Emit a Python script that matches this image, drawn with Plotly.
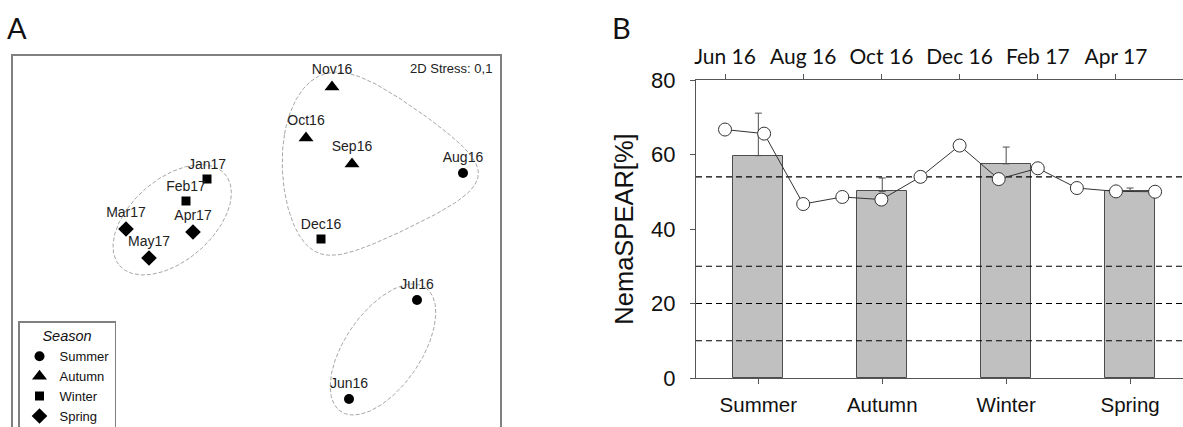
import numpy as np
import plotly.graph_objects as go

# ---------------- Panel A : NMDS ordination ----------------
sample_labels = ["Jun16", "Jul16", "Aug16", "Sep16", "Oct16", "Nov16",
                 "Dec16", "Jan17", "Feb17", "Mar17", "Apr17", "May17"]
nmds1 = [3.36, 4.04, 4.50, 3.39, 2.93, 3.19, 3.08, 1.94, 1.73, 1.13, 1.80, 1.36]
nmds2 = [0.28, 1.27, 2.54, 2.63, 2.89, 3.40, 1.88, 2.48, 2.26, 1.98, 1.95, 1.69]
sample_season = ["Summer", "Summer", "Summer", "Autumn", "Autumn", "Autumn",
                 "Winter", "Winter", "Winter", "Spring", "Spring", "Spring"]
seasons = ["Summer", "Autumn", "Winter", "Spring"]
season_symbols = ["circle", "triangle-up", "square", "diamond"]
season_sizes = [10, 13, 9, 12]
clusters = [["Jun16", "Jul16"],
            ["Aug16", "Sep16", "Oct16", "Nov16", "Dec16"],
            ["Jan17", "Feb17", "Mar17", "Apr17", "May17"]]
stress_text = "2D Stress: 0,1"

# ---------------- Panel B : NemaSPEAR ----------------
bar_values = [59.7, 50.1, 57.5, 50.3]
bar_errors = [11.4, 3.6, 4.5, 0.7]
month_index = list(range(12))
monthly_values = [66.7, 65.6, 46.7, 48.6, 47.9, 54.0, 62.4, 53.4, 56.3, 51.0, 50.1, 50.0]
top_tick_labels = ["Jun 16", "Aug 16", "Oct 16", "Dec 16", "Feb 17", "Apr 17"]
thresholds = [54, 30, 20, 10]

W, H = 1183, 427
ARIAL = "Liberation Sans, Arial, sans-serif"

fig = go.Figure()

# --- hull outlines (derived from cluster points) ---
def padded_hull(px, py, r):
    ang = np.linspace(0, 2 * np.pi, 72, endpoint=False)
    pts = np.array([(x + r * np.cos(a), y + r * np.sin(a)) for x, y in zip(px, py) for a in ang])
    pts = pts[np.lexsort((pts[:, 1], pts[:, 0]))]
    def cross(o, a, b):
        return (a[0] - o[0]) * (b[1] - o[1]) - (a[1] - o[1]) * (b[0] - o[0])
    lower, upper = [], []
    for p in pts:
        while len(lower) >= 2 and cross(lower[-2], lower[-1], p) <= 0:
            lower.pop()
        lower.append(p)
    for p in pts[::-1]:
        while len(upper) >= 2 and cross(upper[-2], upper[-1], p) <= 0:
            upper.pop()
        upper.append(p)
    return np.array(lower[:-1] + upper[:-1])

def smooth_closed(hull, nharm, n=256):
    closed = np.vstack([hull, hull[:1]])
    seg = np.hypot(np.diff(closed[:, 0]), np.diff(closed[:, 1]))
    s = np.concatenate([[0], np.cumsum(seg)])
    t = np.linspace(0, s[-1], n, endpoint=False)
    z = np.interp(t, s, closed[:, 0]) + 1j * np.interp(t, s, closed[:, 1])
    Z = np.fft.fft(z)
    k = np.fft.fftfreq(n, 1 / n)
    Z[np.abs(k) > nharm] = 0
    zs = np.fft.ifft(Z)
    zs = np.append(zs, zs[0])
    return zs.real, zs.imag

def ellipse(cx, cy, a, b, th, n=200):
    t = np.linspace(0, 2 * np.pi, n)
    ex = cx + a * np.cos(t) * np.cos(th) - b * np.sin(t) * np.sin(th)
    ey = cy + a * np.cos(t) * np.sin(th) + b * np.sin(t) * np.cos(th)
    return ex, ey

def pair_ellipse(px, py, pad_major, semi_minor):
    dx, dy = px[1] - px[0], py[1] - py[0]
    return ellipse(np.mean(px), np.mean(py), np.hypot(dx, dy) / 2 + pad_major,
                   semi_minor, np.arctan2(dy, dx))

def cov_ellipse(px, py, k, pad):
    P = np.vstack([px, py])
    C = np.cov(P)
    vals, vecs = np.linalg.eigh(C)
    a = k * np.sqrt(vals[1]) + pad
    b = k * np.sqrt(vals[0]) + pad
    th = np.arctan2(vecs[1, 1], vecs[0, 1])
    return ellipse(np.mean(px), np.mean(py), a, b, th)

hull_style = dict(color="#a6a6a6", width=1, dash="4px,2px")
for members in clusters:
    idx = [sample_labels.index(m) for m in members]
    cx = [nmds1[i] for i in idx]
    cy = [nmds2[i] for i in idx]
    if len(members) == 2:
        hx, hy = pair_ellipse(cx, cy, 0.15, 0.38)
    elif members[0] == "Aug16":
        hx, hy = smooth_closed(padded_hull(cx, cy, 0.24), 3)
    else:
        hx, hy = cov_ellipse(cx, cy, 1.25, 0.18)
    fig.add_trace(go.Scatter(x=hx, y=hy, mode="lines", line=hull_style, hoverinfo="skip",
                             showlegend=False, xaxis="x", yaxis="y"))

# --- sample points with labels ---
for s, sym, sz in zip(seasons, season_symbols, season_sizes):
    idx = [i for i, ss in enumerate(sample_season) if ss == s]
    fig.add_trace(go.Scatter(
        x=[nmds1[i] for i in idx], y=[nmds2[i] for i in idx],
        text=[sample_labels[i] for i in idx], mode="markers+text",
        textposition="top center", textfont=dict(family=ARIAL, size=14, color="#222"),
        marker=dict(symbol=sym, size=sz, color="black"),
        showlegend=False, xaxis="x", yaxis="y"))
    fig.add_trace(go.Scatter(
        x=[None], y=[None], mode="markers", name=s,
        marker=dict(symbol=sym, size=sz, color="black"),
        showlegend=True, xaxis="x", yaxis="y"))

# ---------------- Panel B traces ----------------
fig.add_trace(go.Bar(
    x=list(range(len(seasons))), y=bar_values, width=0.4035,
    marker=dict(color="#c0c0c0", line=dict(color="#4d4d4d", width=1)),
    error_y=dict(type="data", array=bar_errors, arrayminus=[0] * len(bar_errors),
                 symmetric=False, color="#4d4d4d", thickness=1, width=3.5),
    showlegend=False, xaxis="x3", yaxis="y3"))

x3_range = [-0.503, 3.427]
for t in thresholds:
    fig.add_trace(go.Scatter(x=x3_range, y=[t, t], mode="lines",
                             line=dict(color="black", width=1.2, dash="6px,4px"),
                             showlegend=False, hoverinfo="skip", xaxis="x3", yaxis="y3"))

fig.add_trace(go.Scatter(
    x=month_index, y=monthly_values, mode="lines+markers",
    line=dict(color="#333", width=1),
    marker=dict(symbol="circle", size=13, color="white", line=dict(color="#333", width=1)),
    showlegend=False, xaxis="x4", yaxis="y3"))

axis_common = dict(showgrid=False, zeroline=False, automargin=False)
fig.update_layout(
    width=W, height=H,
    margin=dict(l=0, r=0, t=0, b=0, autoexpand=False),
    paper_bgcolor="white", plot_bgcolor="white",
    font=dict(family=ARIAL, color="#111"),
    xaxis=dict(domain=[13 / W, 500 / W], range=[0, 4.87], showline=True, mirror=True,
               linecolor="#808080", linewidth=1.5, showticklabels=False, ticks="",
               anchor="y", **axis_common),
    yaxis=dict(domain=[0, 371 / H], range=[0, 3.71], showline=True, mirror=True,
               linecolor="#808080", linewidth=1.5, showticklabels=False, ticks="",
               anchor="x", **axis_common),
    xaxis3=dict(domain=[696 / W, 1.0], range=x3_range, anchor="y3",
                tickvals=list(range(len(seasons))), ticktext=seasons,
                ticks="outside", ticklen=5, tickcolor="#555", showline=True,
                linecolor="#555", linewidth=1, tickfont=dict(family=ARIAL, size=20.5, color="#111"),
                ticklabelstandoff=3, **axis_common),
    yaxis3=dict(domain=[1 - 378 / H, 1 - 80 / H], range=[0, 80], anchor="x3",
                tickvals=[0, 20, 40, 60, 80], ticks="outside", ticklen=5, tickcolor="#555",
                showline=True, linecolor="#555", linewidth=1,
                tickfont=dict(family=ARIAL, size=22, color="#111"), ticklabelstandoff=10,
                title=dict(text="NemaSPEAR[%]", font=dict(family=ARIAL, size=25.5, color="#111"),
                           standoff=10),
                **axis_common),
    xaxis4=dict(overlaying="x3", side="top", anchor="y3", range=[-0.742, 11.714],
                tickvals=[0, 2, 4, 6, 8, 10], ticktext=top_tick_labels,
                ticks="outside", ticklen=5, tickcolor="#555", showline=True,
                linecolor="#555", linewidth=1,
                tickfont=dict(family="Lato, Open Sans, sans-serif", size=21, color="#111"),
                ticklabelstandoff=2, **axis_common),
    legend=dict(x=18 / W, y=1 - 321 / H, xanchor="left", yanchor="top",
                bordercolor="#808080", borderwidth=1.5, bgcolor="white",
                font=dict(family=ARIAL, size=13, color="#111"),
                title=dict(text="<i>Season</i>", side="top center",
                           font=dict(family=ARIAL, size=14.5, color="#111")),
                tracegroupgap=0, itemwidth=30),
    bargap=0,
    annotations=[
        dict(text="A", x=17 / W, y=1 - 28 / H, xref="paper", yref="paper", showarrow=False,
             xanchor="center", yanchor="middle", font=dict(family="Lato, Open Sans", size=29, color="#111")),
        dict(text="B", x=621 / W, y=1 - 28 / H, xref="paper", yref="paper", showarrow=False,
             xanchor="center", yanchor="middle", font=dict(family="Lato, Open Sans", size=29, color="#111")),
        dict(text=stress_text, x=494 / W, y=1 - 69 / H, xref="paper", yref="paper", showarrow=False,
             xanchor="right", yanchor="middle", font=dict(family=ARIAL, size=13, color="#222")),
    ],
)

fig.write_html("out.html", config={"displayModeBar": False},
               post_script="document.body.style.margin='0';")
